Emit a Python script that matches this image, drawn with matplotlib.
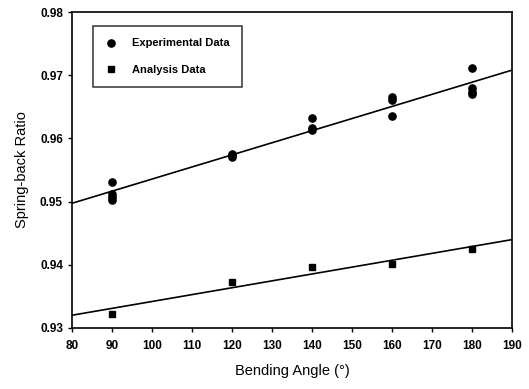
import numpy as np
import matplotlib.pyplot as plt

plt.rcParams["font.family"] = "Liberation Sans"
plt.rcParams["font.size"] = 8

# experimental spring-back ratios
exp_angle = [90, 90, 90, 90, 120, 120, 120, 140, 140, 140, 160, 160, 160, 180, 180, 180, 180]
exp_ratio = [0.9531, 0.9512, 0.9508, 0.9503, 0.9576, 0.9573, 0.9570, 0.9632, 0.9617, 0.9613,
             0.9666, 0.9661, 0.9636, 0.9711, 0.9679, 0.9674, 0.9670]

# analysis spring-back ratios
ana_angle = [90, 120, 140, 160, 180]
ana_ratio = [0.9322, 0.9372, 0.9396, 0.9401, 0.9425]

fig = plt.figure(figsize=(5.29, 3.89), dpi=100)
ax = fig.add_axes([0.136, 0.157, 0.832, 0.812])

ax.plot(exp_angle, exp_ratio, "o", color="black", markersize=5.2, label="Experimental Data")
ax.plot(ana_angle, ana_ratio, "s", color="black", markersize=4.4, label="Analysis Data")

# linear fits across the full x range
xs = np.array([80, 190])
p1 = np.polyfit(exp_angle, exp_ratio, 1)
p2 = np.polyfit(ana_angle, ana_ratio, 1)
ax.plot(xs, np.polyval(p1, xs), color="black", linewidth=1.2)
ax.plot(xs, np.polyval(p2, xs), color="black", linewidth=1.2)

ax.set_xlim(80, 190)
ax.set_ylim(0.93, 0.98)
ax.set_xticks(range(80, 191, 10))
ax.set_yticks([0.93, 0.94, 0.95, 0.96, 0.97, 0.98])
ax.set_yticklabels(["0.93", "0.94", "0.95", "0.96", "0.97", "0.98"])
ax.tick_params(direction="out", length=3, width=1, labelsize=8.5)
ax.tick_params(axis="x", pad=6)
for lab in ax.get_xticklabels() + ax.get_yticklabels():
    lab.set_fontweight("bold")
for s in ax.spines.values():
    s.set_linewidth(1.2)

ax.set_xlabel("Bending Angle (°)", fontsize=10.5, labelpad=8)
ax.set_ylabel("Spring-back Ratio", fontsize=10.5, labelpad=8)

leg = ax.legend(loc="upper left", bbox_to_anchor=(0.048, 0.955), frameon=True, fancybox=False,
                edgecolor="black", prop={"size": 8, "weight": "bold"}, handletextpad=1.3,
                borderpad=1.1, labelspacing=1.5, handlelength=1.1, borderaxespad=0)
leg.get_frame().set_linewidth(1.1)

fig.savefig("out.png", dpi=100)
